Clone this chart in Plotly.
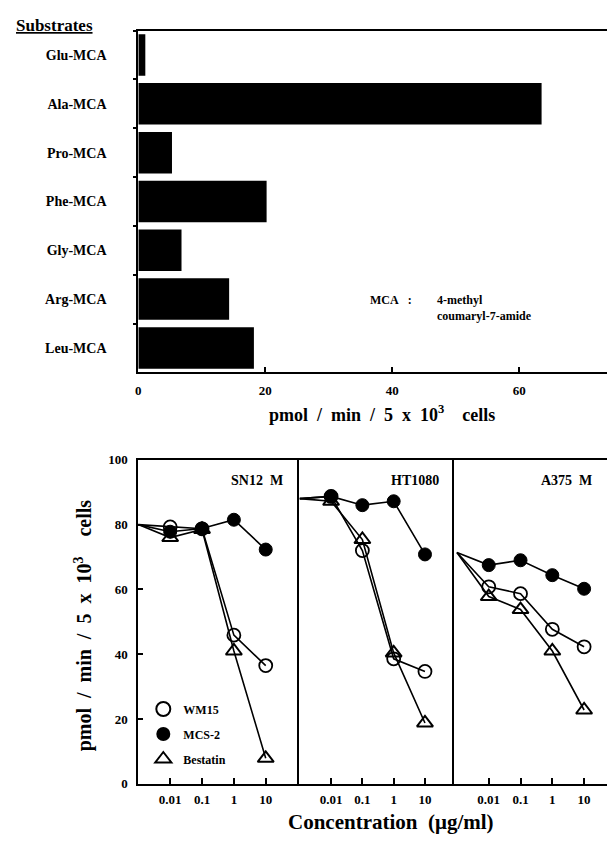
import plotly.graph_objects as go

# ---------------- data ----------------
substrates = ["Glu-MCA", "Ala-MCA", "Pro-MCA", "Phe-MCA", "Gly-MCA", "Arg-MCA", "Leu-MCA"]
activity = [1.1, 63.5, 5.3, 20.2, 6.8, 14.3, 18.2]

conc = [0.001, 0.01, 0.1, 1, 10]          # first value = control (drawn at the axis)
conc_ticks = [0.01, 0.1, 1, 10]
conc_ticktext = ["0.01", "0.1", "1", "10"]

panels = ["SN12  M", "HT1080", "A375  M"]
wm15 = [
    [80, 79.3, 78.7, 45.9, 36.5],
    [88, 88.7, 72.0, 38.6, 34.7],
    [71.4, 60.8, 58.7, 47.7, 42.3],
]
mcs2 = [
    [80, 77.8, 78.8, 81.5, 72.3],
    [88, 88.7, 86.0, 87.2, 70.8],
    [71.4, 67.5, 69.0, 64.4, 60.2],
]
bestatin = [
    [80, 76.0, 78.5, 41.0, 7.9],
    [88, 87.2, 75.4, 40.4, 18.8],
    [71.4, 57.8, 53.8, 41.0, 22.8],
]
series_names = ["WM15", "MCS-2", "Bestatin"]

# ---------------- geometry helpers ----------------
W, H = 607, 841
def px(x):
    return x / W
def py(y):
    return 1 - y / H

FONT = "Liberation Serif"
BLACK = "black"
SP = "&nbsp;"

fig = go.Figure()

# ---------------- top bar chart ----------------
fig.add_trace(go.Bar(
    x=activity, y=substrates, orientation="h",
    marker=dict(color=BLACK, line=dict(width=0)),
    xaxis="x", yaxis="y", showlegend=False,
))

# ---------------- bottom line panels ----------------
axis_ids = [("x2", "y2"), ("x3", "y3"), ("x4", "y4")]
for i, (xa, ya) in enumerate(axis_ids):
    data = [wm15[i], mcs2[i], bestatin[i]]
    styles = [
        dict(symbol="circle-open", color=BLACK, line=dict(width=1.8, color=BLACK)),
        dict(symbol="circle", color=BLACK, line=dict(width=1, color=BLACK)),
        dict(symbol="triangle-up-open", color=BLACK, line=dict(width=2, color=BLACK)),
    ]
    sizes = [[0, 13, 13, 13, 13], [0, 13, 13, 13, 13], [0, 14, 14, 14, 14]]
    for k in [1, 0, 2]:
        fig.add_trace(go.Scatter(
            x=conc, y=data[k], mode="lines+markers",
            line=dict(color=BLACK, width=1.6),
            marker=dict(size=sizes[k], opacity=1, **styles[k]),
            xaxis=xa, yaxis=ya, showlegend=False, cliponaxis=False,
        ))

# legend-only entries
leg_styles = [
    dict(symbol="circle-open", size=14, color=BLACK, line=dict(width=2, color=BLACK)),
    dict(symbol="circle", size=14, color=BLACK),
    dict(symbol="triangle-up-open", size=14, color=BLACK, line=dict(width=2, color=BLACK)),
]
for name, st in zip(series_names, leg_styles):
    fig.add_trace(go.Scatter(
        x=[None], y=[None], mode="markers", name=name, marker=st,
        xaxis="x2", yaxis="y2", showlegend=True, legendgroup=name,
    ))

tickfont = dict(family=FONT, size=13, color=BLACK, weight="bold")
smallfont = dict(family=FONT, size=13, color=BLACK, weight="bold")

layout = dict(
    width=W, height=H,
    margin=dict(l=0, r=0, t=0, b=0),
    paper_bgcolor="white", plot_bgcolor="white",
    font=dict(family=FONT, color=BLACK),
    bargap=0.15,
    showlegend=True,
    legend=dict(
        x=px(141), y=py(700), xanchor="left", yanchor="top",
        bgcolor="rgba(0,0,0,0)", borderwidth=0,
        font=dict(family=FONT, size=12, color=BLACK, weight="bold"),
        tracegroupgap=6, itemwidth=30,
    ),
    xaxis=dict(
        domain=[px(136), 1.0], anchor="y", range=[0, 73.8],
        tickvals=[0, 20, 40, 60], ticks="inside", ticklen=5, tickwidth=1.5,
        tickcolor=BLACK, tickfont=tickfont, ticklabelstandoff=5,
        showline=True, linecolor=BLACK, linewidth=2, mirror=True,
        showgrid=False, zeroline=False,
    ),
    yaxis=dict(
        domain=[py(372), py(24)], anchor="x",
        categoryorder="array", categoryarray=substrates,
        range=[6.5, -0.5], tickson="boundaries",
        ticks="outside", ticklen=3, tickwidth=1.5, tickcolor=BLACK,
        tickfont=dict(family=FONT, size=14, color=BLACK, weight="bold"),
        ticklabelstandoff=27,
        showline=True, linecolor=BLACK, linewidth=2,
        showgrid=False, zeroline=False,
    ),
)

x_domains = [(136, 297), (297, 453), (453, 607)]
x_ranges = [[-3, 2.03], [-3.04, 1.92], [-3.1, 1.72]]
for i, (xa, ya) in enumerate(axis_ids):
    xkey = "xaxis" + xa[1:]
    ykey = "yaxis" + ya[1:]
    layout[xkey] = dict(
        type="log", domain=[px(x_domains[i][0]), px(x_domains[i][1])], anchor=ya,
        range=x_ranges[i], tickvals=conc_ticks, ticktext=conc_ticktext,
        ticks="inside", ticklen=6, tickwidth=1.5, tickcolor=BLACK,
        tickfont=smallfont, ticklabelstandoff=3,
        showline=True, linecolor=BLACK, linewidth=2, mirror=True,
        showgrid=False, zeroline=False,
    )
    ydict = dict(
        domain=[py(791), py(461)], anchor=xa, range=[0, 100],
        showline=True, linecolor=BLACK, linewidth=2,
        showgrid=False, zeroline=False,
    )
    if i == 0:
        ydict.update(tickvals=[0, 20, 40, 60, 80, 100], ticks="inside", ticklen=5,
                     tickwidth=1.5, tickcolor=BLACK, tickfont=smallfont,
                     ticklabelstandoff=6)
    else:
        ydict.update(showticklabels=False, ticks="")
    layout[ykey] = ydict

def title_text(gap):
    return ("<b>pmol" + SP * gap + "/" + SP * gap + "min" + SP * gap + "/" + SP * gap + "5"
            + SP * gap + "x" + SP * gap + "10<sup>3</sup>" + SP * (gap + 2) + "cells</b>")

annotations = [
    dict(text="<u><b>Substrates</b></u>", x=px(11), y=py(19), xanchor="left", yanchor="middle",
         font=dict(family=FONT, size=17, color=BLACK)),
    dict(text="<b>MCA" + SP * 3 + ":</b>", x=px(367), y=py(298), xanchor="left", yanchor="middle",
         font=dict(family=FONT, size=12, color=BLACK)),
    dict(text="<b>4-methyl</b>", x=px(434), y=py(298), xanchor="left", yanchor="middle",
         font=dict(family=FONT, size=12, color=BLACK)),
    dict(text="<b>coumaryl-7-amide</b>", x=px(434), y=py(315), xanchor="left", yanchor="middle",
         font=dict(family=FONT, size=12, color=BLACK)),
    dict(text=title_text(2), x=px(381), y=py(414), xanchor="center", yanchor="middle",
         font=dict(family=FONT, size=18, color=BLACK)),
    dict(text=title_text(2), x=px(81), y=py(630), xanchor="center", yanchor="middle",
         textangle=-90, font=dict(family=FONT, size=20, color=BLACK)),
    dict(text="<b>Concentration" + SP * 2 + "(μg/ml)</b>", x=px(390), y=py(830),
         xanchor="center", yanchor="middle", font=dict(family=FONT, size=21, color=BLACK)),
]
label_right = [283, 440, 594]
for name, xr in zip(panels, label_right):
    annotations.append(dict(
        text="<b>" + name.replace(" ", SP) + "</b>", x=px(xr), y=py(482),
        xanchor="right", yanchor="middle", font=dict(family=FONT, size=14, color=BLACK)))
for a in annotations:
    a.update(xref="paper", yref="paper", showarrow=False)
layout["annotations"] = annotations

fig.update_layout(**layout)
fig.write_html(
    "out.html",
    config={"displayModeBar": False},
    post_script="document.body.style.margin='0px';document.body.style.padding='0px';",
)
